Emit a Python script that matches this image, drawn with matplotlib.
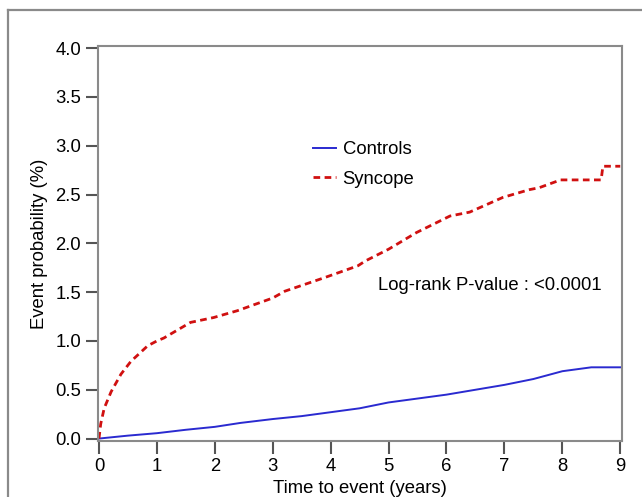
import matplotlib.pyplot as plt
from matplotlib.lines import Line2D

plt.rcParams['font.family'] = ['Liberation Sans', 'DejaVu Sans']

# Kaplan-Meier style cumulative event curves
syncope_t = [0, 0.03, 0.09, 0.21, 0.38, 0.55, 0.84, 1.0, 1.12, 1.58, 1.98, 2.39,
             3.0, 3.21, 3.9, 4.47, 4.6, 5.0, 5.48, 6.06, 6.4, 6.97, 7.43, 7.6,
             7.97, 8.67, 8.70, 9.0]
syncope_p = [0, 0.15, 0.31, 0.48, 0.66, 0.79, 0.95, 1.0, 1.03, 1.19, 1.24, 1.31,
             1.44, 1.51, 1.65, 1.77, 1.82, 1.94, 2.11, 2.28, 2.32, 2.47, 2.55, 2.57,
             2.65, 2.65, 2.79, 2.79]

controls_t = [0, 0.5, 1.0, 1.5, 2.0, 2.44, 3.0, 3.5, 4.0, 4.5, 5.0, 5.5, 6.0,
              6.5, 7.0, 7.5, 8.0, 8.5, 9.0]
controls_p = [0, 0.03, 0.055, 0.09, 0.12, 0.16, 0.2, 0.23, 0.27, 0.31, 0.37,
              0.41, 0.45, 0.5, 0.55, 0.61, 0.69, 0.73, 0.73]

x_ticks = list(range(0, 10))
y_ticks = [0.0, 0.5, 1.0, 1.5, 2.0, 2.5, 3.0, 3.5, 4.0]

W, H = 642, 497
FS = 13.3
fig = plt.figure(figsize=(W / 100, H / 100), dpi=100)
ax = fig.add_axes([97.7 / W, (H - 441) / H, (622 - 97.7) / W, (441 - 45.7) / H])

ax.plot(controls_t, controls_p, color='#2a2ad0', lw=1.4, label='Controls')
ax.plot(syncope_t, syncope_p, color='#d01010', lw=2.0, ls=(0, (2.4, 1.6)),
        label='Syncope')

ax.set_xlim(-0.022, 9.03)
ax.set_ylim(-0.025, 4.025)
ax.set_xticks(x_ticks)
ax.set_yticks(y_ticks)
ax.set_yticklabels([f'{v:.1f}' for v in y_ticks])

for s in ax.spines.values():
    s.set_color('#8a8a8a')
    s.set_linewidth(1.5)
ax.tick_params(direction='out', length=9, width=1.5, color='#555555',
               labelsize=FS, pad=3)

ax.set_xlabel('Time to event (years)', fontsize=FS, labelpad=4)
ax.set_ylabel('Event probability (%)', fontsize=FS, labelpad=5)

ax.legend(loc='upper left', bbox_to_anchor=(0.379, 0.80), frameon=False,
          fontsize=FS, handlelength=1.25, handletextpad=0.35, labelspacing=0.68)

ax.text(0.535, 0.393, 'Log-rank P-value : <0.0001', transform=ax.transAxes,
        fontsize=FS, va='center', ha='left')

# outer frame of the original panel
fig.add_artist(Line2D([8 / W, 1], [1 - 9.5 / H, 1 - 9.5 / H],
                      transform=fig.transFigure, color='#8a8a8a', lw=1.6))
fig.add_artist(Line2D([8.3 / W, 8.3 / W], [0, 1 - 9.5 / H],
                      transform=fig.transFigure, color='#8a8a8a', lw=1.6))

fig.savefig('out.png', dpi=100)
